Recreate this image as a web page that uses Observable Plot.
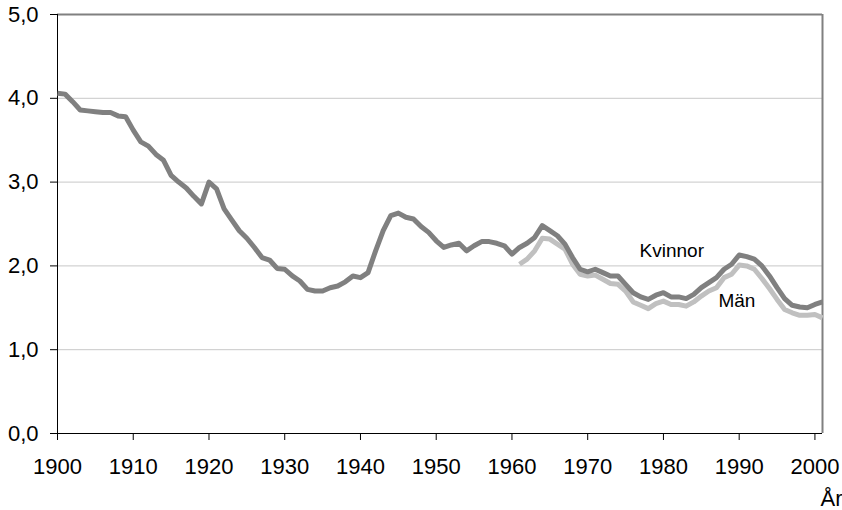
<!DOCTYPE html>
<html>
<head>
<meta charset="utf-8">
<script src="https://cdn.jsdelivr.net/npm/d3@7"></script>
<script src="https://cdn.jsdelivr.net/npm/@observablehq/plot@0.6"></script>
<style>
  html, body { margin: 0; padding: 0; background: #fff; }
  svg { display: block; }
</style>
</head>
<body>
<script>
const kvinnorStart = 1900;
const kvinnor = [
  4.06, 4.05, 3.96, 3.86, 3.85, 3.84, 3.83, 3.83, 3.79, 3.78,
  3.62, 3.48, 3.43, 3.33, 3.26, 3.08, 3.00, 2.93, 2.83, 2.74,
  3.00, 2.92, 2.68, 2.55, 2.42, 2.33, 2.22, 2.10, 2.07, 1.97,
  1.96, 1.88, 1.82, 1.72, 1.70, 1.70, 1.74, 1.76, 1.81, 1.88,
  1.86, 1.92, 2.18, 2.42, 2.60, 2.63, 2.58, 2.56, 2.47, 2.40,
  2.30, 2.22, 2.25, 2.27, 2.18, 2.24, 2.29, 2.29, 2.27, 2.24,
  2.14, 2.22, 2.27, 2.34, 2.48, 2.42, 2.36, 2.26, 2.10, 1.96,
  1.93, 1.96, 1.92, 1.88, 1.88, 1.78, 1.68, 1.63, 1.60, 1.65,
  1.68, 1.63, 1.63, 1.61, 1.66, 1.74, 1.80, 1.86, 1.96, 2.02,
  2.13, 2.11, 2.08, 2.00, 1.88, 1.74, 1.61, 1.53, 1.51, 1.50,
  1.54, 1.57
];
const manStart = 1961;
const man = [
  2.02, 2.08, 2.18, 2.33, 2.32, 2.26, 2.20, 2.02, 1.90,
  1.88, 1.89, 1.84, 1.79, 1.78, 1.70, 1.57, 1.53, 1.49, 1.55,
  1.58, 1.54, 1.54, 1.52, 1.57, 1.64, 1.70, 1.74, 1.86, 1.90,
  2.01, 2.00, 1.96, 1.85, 1.73, 1.60, 1.48, 1.44, 1.41, 1.41,
  1.42, 1.38
];
const yTicks = [0, 1, 2, 3, 4, 5];
const xTicks = [1900, 1910, 1920, 1930, 1940, 1950, 1960, 1970, 1980, 1990, 2000];
const seriesLabels = [
  {text: "Kvinnor", year: 1981.1, value: 2.18},
  {text: "Män", year: 1989.7, value: 1.585}
];
const xTitle = "År";

const kData = kvinnor.map((v, i) => ({year: kvinnorStart + i, value: v}));
const mData = man.map((v, i) => ({year: manStart + i, value: v}));

const chart = Plot.plot({
  width: 842,
  height: 510,
  marginLeft: 57,
  marginRight: 20,
  marginTop: 14,
  marginBottom: 77,
  style: {fontFamily: "'Liberation Sans', Arial, sans-serif", fontSize: "22px", color: "#000", background: "#fff"},
  x: {domain: [1900, 2001]},
  y: {domain: [0, 5]},
  marks: [
    Plot.ruleY([1, 2, 3, 4], {stroke: "#c8c8c8", strokeWidth: 1}),
    Plot.ruleY([5], {stroke: "#808080", strokeWidth: 2}),
    Plot.ruleX([2001], {y1: 0, y2: 5, stroke: "#808080", strokeWidth: 2}),
    Plot.axisY({ticks: yTicks, tickSize: 7, tickPadding: 12, label: null,
      tickFormat: d => d.toFixed(1).replace(".", ","), fontSize: 22}),
    Plot.axisX({ticks: xTicks, tickSize: 7, tickPadding: 18, label: null,
      tickFormat: d => String(d), fontSize: 22}),
    Plot.ruleX([1900], {y1: 0, y2: 5, stroke: "#000", strokeWidth: 1}),
    Plot.ruleY([0], {stroke: "#000", strokeWidth: 1}),
    Plot.line(mData, {x: "year", y: "value", stroke: "#c0c0c0", strokeWidth: 5, strokeLinejoin: "round", strokeLinecap: "butt"}),
    Plot.line(kData, {x: "year", y: "value", stroke: "#808080", strokeWidth: 5, strokeLinejoin: "round", strokeLinecap: "butt"}),
    Plot.text(seriesLabels, {x: "year", y: "value", text: "text", fontSize: 19, fill: "#000"}),
    Plot.text([xTitle], {frameAnchor: "bottom-right", dx: 20, dy: 72, textAnchor: "end", fontSize: 22, fill: "#000"})
  ]
});
document.body.appendChild(chart);
</script>
</body>
</html>
